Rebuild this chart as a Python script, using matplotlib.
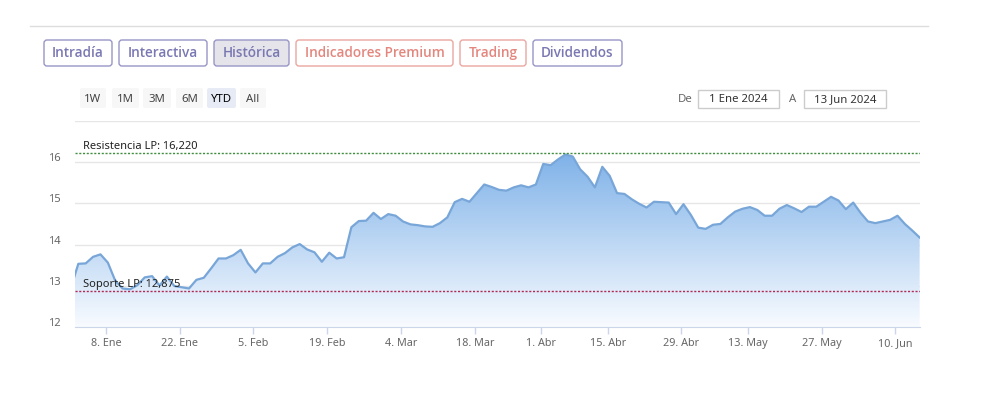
import numpy as np
import pandas as pd
import matplotlib
matplotlib.use("Agg")
import matplotlib.pyplot as plt
import matplotlib.transforms as mtransforms
from matplotlib.colors import LinearSegmentedColormap
from matplotlib.patches import FancyBboxPatch

# ================================================
# DATA (closing prices, trading days 2024)
# ================================================
prev_close = 12.95  # 29 Dec 2023, only used so the line enters from the left edge
jan = [13.53, 13.54, 13.70, 13.76, 13.56, 13.12, 12.93, 12.91, 13.01, 13.20, 13.23,
       13.00, 13.22, 12.99, 12.96, 12.93, 13.14, 13.19, 13.42, 13.66, 13.66, 13.74]
feb = [13.87, 13.54, 13.32, 13.54, 13.54, 13.70, 13.79, 13.93, 14.01, 13.88, 13.81,
       13.58, 13.80, 13.66, 13.69, 14.42, 14.57, 14.58, 14.77, 14.62, 14.74]
mar = [14.70, 14.56, 14.49, 14.47, 14.44, 14.43, 14.52, 14.66, 15.03, 15.11, 15.04,
       15.25, 15.46, 15.40, 15.33, 15.31, 15.39, 15.44, 15.39, 15.46]
apr = [15.96, 15.93, 16.07, 16.19, 16.14, 15.83, 15.65, 15.39, 15.89, 15.67, 15.25,
       15.23, 15.10, 14.99, 14.90, 15.04, 15.03, 15.02, 14.74, 14.98, 14.72]
may = [14.41, 14.38, 14.48, 14.50, 14.66, 14.80, 14.87, 14.91, 14.84, 14.70, 14.70,
       14.87, 14.96, 14.88, 14.79, 14.92, 14.92, 15.04, 15.16, 15.07, 14.86, 15.02]
jun = [14.77, 14.56, 14.52, 14.56, 14.60, 14.70, 14.50, 14.34, 14.17]

market_holidays = ["2024-01-01", "2024-03-29", "2024-04-01", "2024-05-01"]
tick_dates = ["2024-01-08", "2024-01-22", "2024-02-05", "2024-02-19", "2024-03-04",
              "2024-03-18", "2024-04-01", "2024-04-15", "2024-04-29", "2024-05-13",
              "2024-05-27", "2024-06-10"]
tick_labels = ["8. Ene", "22. Ene", "5. Feb", "19. Feb", "4. Mar", "18. Mar",
               "1. Abr", "15. Abr", "29. Abr", "13. May", "27. May", "10. Jun"]
y_ticks = [12, 13, 14, 15, 16, 17]
resistencia = 16.220
soporte = 12.875

nav_buttons = ["Intradía", "Interactiva", "Histórica", "Indicadores Premium", "Trading", "Dividendos"]
range_buttons = ["1W", "1M", "3M", "6M", "YTD", "All"]

UI_FONT = ["Noto Sans", "DejaVu Sans"]

# ================================================
# PREP
# ================================================
prices = np.array([prev_close] + jan + feb + mar + apr + may + jun)
dates = pd.bdate_range("2023-12-29", "2024-06-13", freq="C", holidays=market_holidays)
x = np.arange(len(dates)) - 1  # ordinal axis, 2 Jan = 0
tick_pos = dates.searchsorted(pd.to_datetime(tick_dates)) - 1 - 0.27

W, H = 999, 398
fig = plt.figure(figsize=(W / 100, H / 100), dpi=100)
fig.patch.set_facecolor("white")

left, right = 75, 920
top, bottom = 121.2, 326.7
ax = fig.add_axes([left / W, 1 - bottom / H, (right - left) / W, (bottom - top) / H])
ax.set_xlim(-0.45, len(dates) - 2 + 0.05)
ax.set_ylim(12, 17)

# ================================================
# AREA WITH GRADIENT
# ================================================
cmap = LinearSegmentedColormap.from_list("grad", [(248/255, 251/255, 1.0), (104/255, 164/255, 228/255)])
poly = ax.fill_between(x, prices, 12, facecolor="none", edgecolor="none")
grad = np.linspace(0, 1, 256).reshape(-1, 1)
im = ax.imshow(grad, cmap=cmap, aspect="auto", origin="lower",
               extent=[ax.get_xlim()[0], ax.get_xlim()[1], 12, 17], zorder=1)
im.set_clip_path(poly.get_paths()[0], transform=ax.transData)
ax.plot(x, prices, color="#78a6d8", lw=1.6, zorder=3, solid_joinstyle="round")

# resistance / support
ax.axhline(resistencia, color="#3f8f3f", lw=1.0, ls=(0, (1.5, 1.2)), zorder=4)
ax.axhline(soporte, color="#b02a55", lw=1.0, ls=(0, (1.5, 1.2)), zorder=4)
ax.text(0.7, resistencia + 0.02, "Resistencia LP: 16,220", fontsize=8, color="#222222",
        family=UI_FONT, va="bottom", ha="left", zorder=5)
ax.text(0.7, soporte + 0.02, "Soporte LP: 12,875", fontsize=8, color="#222222",
        family=UI_FONT, va="bottom", ha="left", zorder=5)

# axes styling
ax.set_yticks(y_ticks)
ax.set_yticklabels([str(v) if v < 17 else "" for v in y_ticks], family=UI_FONT)
ax.yaxis.grid(True, color="#e6e6e6", lw=1)
ax.set_axisbelow(True)
ax.tick_params(axis="y", length=0, pad=10, labelsize=8, labelcolor="#666666")
for lab in ax.get_yticklabels():
    lab.set_transform(mtransforms.offset_copy(lab.get_transform(), fig, y=5, units="dots"))

ax.set_xticks(tick_pos)
ax.set_xticklabels(tick_labels, family=UI_FONT)
ax.tick_params(axis="x", length=5, width=1, color="#ccd6eb", pad=3, labelsize=7.8, labelcolor="#666666")
for s in ["top", "left", "right"]:
    ax.spines[s].set_visible(False)
ax.spines["bottom"].set_color("#ccd6eb")
ax.patch.set_alpha(0)

# ================================================
# PAGE WIDGETS (pixel coords)
# ================================================
ov = fig.add_axes([0, 0, 1, 1], zorder=-1)
ov.set_xlim(0, W)
ov.set_ylim(H, 0)
ov.axis("off")

ov.plot([30, 928], [26, 26], color="#dddddd", lw=1)

purple_edge, purple_txt = "#9896c6", "#7a78b2"
red_edge, red_txt = "#eaa7a0", "#e3877e"
nav_spans = [(44, 112), (119, 207), (214, 289), (296, 453), (460, 526), (533, 622)]
for name, (x0, x1) in zip(nav_buttons, nav_spans):
    is_red = name in ("Indicadores Premium", "Trading")
    face = "#e4e4ea" if name == "Histórica" else "white"
    ov.add_patch(FancyBboxPatch((x0, 40), x1 - x0, 26, boxstyle="round,pad=0,rounding_size=3",
                                facecolor=face, edgecolor=red_edge if is_red else purple_edge, lw=1))
    ov.text((x0 + x1) / 2, 53, name, ha="center", va="center", fontsize=9.8,
            family=["Open Sans", "DejaVu Sans"], weight="semibold",
            color=red_txt if is_red else purple_txt)

range_spans = [(80, 106), (112, 139), (143, 171), (176, 203), (207, 236), (240, 266)]
for name, (x0, x1) in zip(range_buttons, range_spans):
    active = name == "YTD"
    ov.add_patch(FancyBboxPatch((x0, 88), x1 - x0, 20, boxstyle="round,pad=0,rounding_size=2",
                                facecolor="#e6ebf5" if active else "#f7f7f7", edgecolor="none"))
    ov.text((x0 + x1) / 2, 99.5, name, ha="center", va="center", fontsize=8.2, family=UI_FONT,
            color="#000000" if active else "#444444", weight="bold" if active else "normal")

ov.text(685, 99.5, "De", ha="center", va="center", fontsize=8.2, color="#666666", family=UI_FONT)
ov.text(793, 99.5, "A", ha="center", va="center", fontsize=8.2, color="#666666", family=UI_FONT)
for (x0, x1), label in [((698, 779), "1 Ene 2024"), ((804, 886), "13 Jun 2024")]:
    ov.add_patch(plt.Rectangle((x0, 90), x1 - x0, 18, facecolor="white", edgecolor="#cccccc", lw=1))
    ov.text((x0 + x1) / 2, 100, label, ha="center", va="center", fontsize=8.2, color="#333333",
            family=UI_FONT)

fig.savefig("out.png", dpi=100)
